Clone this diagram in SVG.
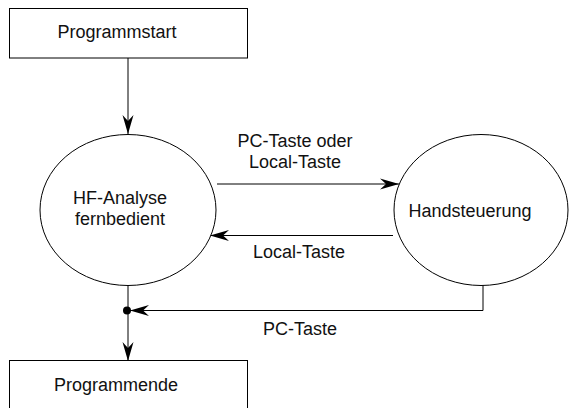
<svg xmlns="http://www.w3.org/2000/svg" width="570" height="408" viewBox="0 0 570 408">
<style>
.box{fill:#fff;stroke:#000;stroke-width:1}
.ell{fill:#fff;stroke:#000;stroke-width:1}
.ln{fill:none;stroke:#000;stroke-width:1}
text{font-family:"Liberation Sans",Arial,sans-serif;font-size:18px;fill:#111}
</style>
<defs>
<marker id="ah" markerUnits="userSpaceOnUse" markerWidth="20" markerHeight="14" viewBox="-19 -7 20 14" refX="0" refY="0" orient="auto">
<path d="M0,0 L-19,-5.5 L-13,0 L-19,5.5 z" fill="#000"/>
</marker>
</defs>
<rect width="570" height="408" fill="#fff"/>
<g id="connectors">
<line class="ln" x1="128" y1="58" x2="128" y2="134" marker-end="url(#ah)"/>
<line class="ln" x1="217" y1="184" x2="399" y2="184" marker-end="url(#ah)"/>
<line class="ln" x1="393" y1="235.5" x2="210" y2="235.5" marker-end="url(#ah)"/>
<polyline class="ln" points="483,285 483,310.5 130,310.5" marker-end="url(#ah)"/>
<line class="ln" x1="128" y1="285" x2="128" y2="361" marker-end="url(#ah)"/>
<circle cx="127" cy="310.5" r="4" fill="#000"/>
<text x="295" y="147" text-anchor="middle">PC-Taste oder</text>
<text x="295" y="168" text-anchor="middle">Local-Taste</text>
<text x="299" y="258" text-anchor="middle">Local-Taste</text>
<text x="300" y="335" text-anchor="middle">PC-Taste</text>
</g>
<g id="programmstart">
<rect class="box" x="9.5" y="8.5" width="238" height="49.5"/>
<text x="117" y="38" text-anchor="middle">Programmstart</text>
</g>
<g id="hf-analyse">
<ellipse class="ell" cx="128" cy="210" rx="88" ry="75.5"/>
<text x="120" y="204" text-anchor="middle">HF-Analyse</text>
<text x="120" y="225" text-anchor="middle">fernbedient</text>
</g>
<g id="handsteuerung">
<ellipse class="ell" cx="481" cy="210" rx="87" ry="75.5"/>
<text x="470" y="217" text-anchor="middle">Handsteuerung</text>
</g>
<g id="programmende">
<rect class="box" x="9.5" y="360.5" width="238" height="60"/>
<text x="116" y="391" text-anchor="middle">Programmende</text>
</g>
</svg>
